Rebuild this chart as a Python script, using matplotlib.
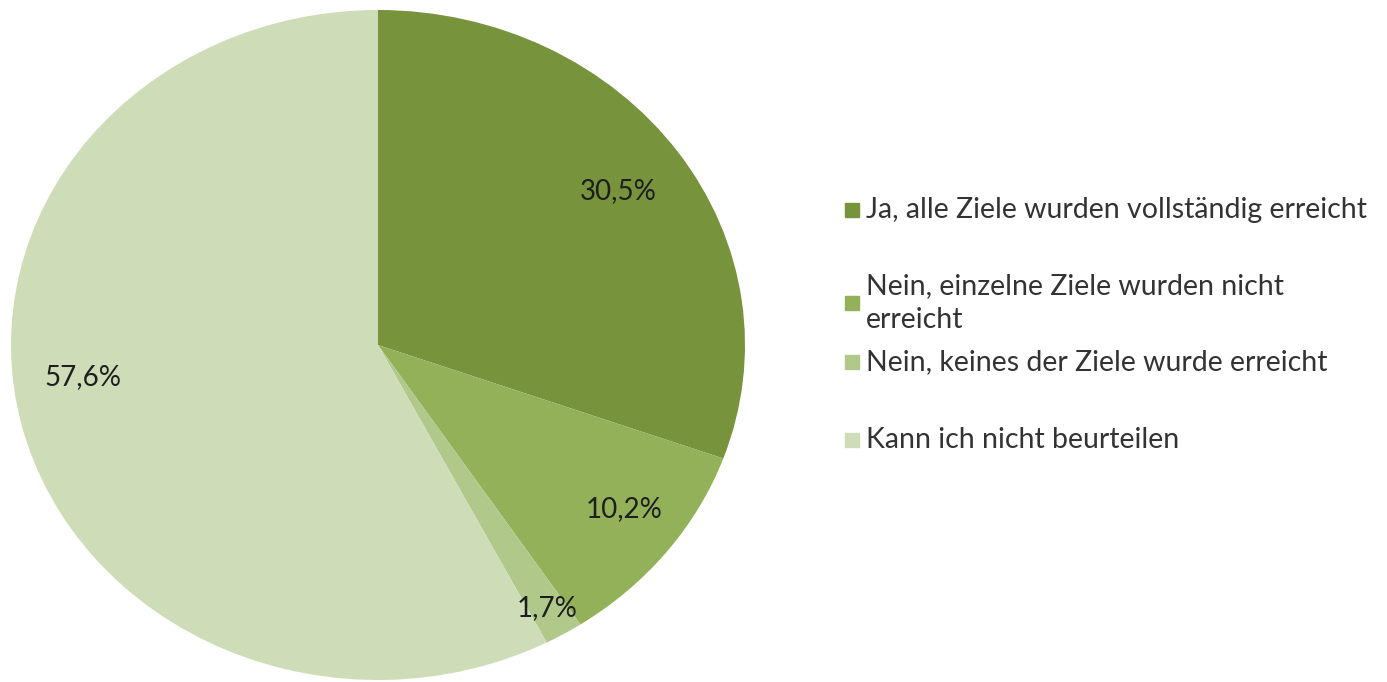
import numpy as np
import matplotlib
matplotlib.use("Agg")
import matplotlib.pyplot as plt
from matplotlib.patches import Rectangle

labels = ["Ja, alle Ziele wurden vollständig erreicht",
          "Nein, einzelne Ziele wurden nicht\nerreicht",
          "Nein, keines der Ziele wurde erreicht",
          "Kann ich nicht beurteilen"]
shares = [30.5, 10.2, 1.7, 57.6]
colors = ["#77933c", "#93b158", "#b0c98a", "#cfdcb8"]
# label radius and angular nudge (deg) per slice
label_dist = [0.8, 0.83, 0.91, 0.81]
label_nudge = [0, 2, 0, -7]

plt.rcParams["font.family"] = ["Lato", "DejaVu Sans"]

fig = plt.figure(figsize=(13.87, 6.82), dpi=100)
# pie is slightly stretched horizontally in the original
ax = fig.add_axes([11/1387, 2/682, 734/1387, 670/682])
wedges, _ = ax.pie(shares, colors=colors, startangle=90, counterclock=False,
                   wedgeprops=dict(linewidth=0))
ax.set_aspect("auto")
ax.set_xlim(-1, 1); ax.set_ylim(-1, 1)

for w, v, d, n in zip(wedges, shares, label_dist, label_nudge):
    mid = np.deg2rad((w.theta1 + w.theta2) / 2 + n)
    ax.text(d*np.cos(mid), d*np.sin(mid), f"{v:.1f}".replace(".", ",") + "%",
            ha="center", va="center", fontsize=20, color="#1e1e1e")

# manual legend, rows placed like the original
rows_y = [210, 303, 362, 440]
for lab, c, y in zip(labels, colors, rows_y):
    fy = 1 - y/682
    fig.patches.append(Rectangle((845/1387, fy - 7/682), 14/1387, 14/682,
                                 transform=fig.transFigure, color=c))
    fig.text(866/1387, fy, lab, ha="left", va="center", fontsize=20.5,
             color="#333333", linespacing=1.4)

plt.savefig("out.png", dpi=100)
